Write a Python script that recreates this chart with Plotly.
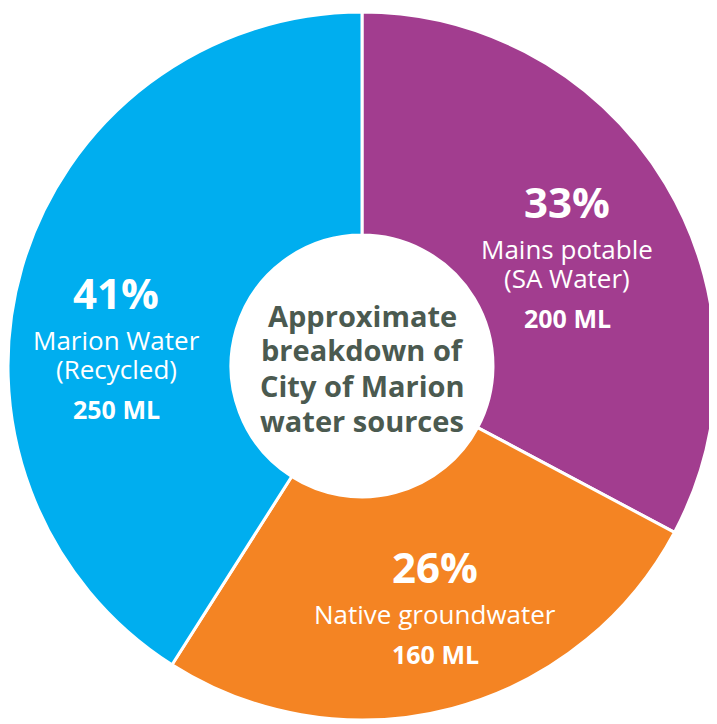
import plotly.graph_objects as go

# Data
sources = ["Mains potable<br>(SA Water)", "Native groundwater", "Marion Water<br>(Recycled)"]
volumes_ml = [200, 160, 250]
percents = [33, 26, 41]
colors = ["#A23D8F", "#F48423", "#00AEEF"]
center_title = ["Approximate", "breakdown of", "City of Marion", "water sources"]

W, H = 717, 724
OFF = 8  # page body margin of the rendered html

# pie placement in figure pixels: centre (354, 358), radius 354
CX, CY, R = 354, 358, 354
fig = go.Figure(go.Pie(
    labels=[s.replace("<br>", " ") for s in sources],
    values=volumes_ml,
    sort=False,
    direction="clockwise",
    rotation=0,
    hole=0.37,
    marker=dict(colors=colors, line=dict(color="white", width=3)),
    textinfo="none",
    hoverinfo="label+value",
    domain=dict(x=[(CX - R) / W, (CX + R) / W], y=[1 - (CY + R) / H, 1 - (CY - R) / H]),
    showlegend=False,
))

# label block layout (screen pixel centres of the percent line)
label_pos = [(567, 201), (435, 566), (116, 292)]

def px(x, y):
    return (x - OFF) / W, 1 - (y - OFF) / H

ann = []
font_family = "Open Sans, Noto Sans, sans-serif"
for (cx, cy), src, vol, pct in zip(label_pos, sources, volumes_ml, percents):
    lines = src.split("<br>")
    x, y = px(cx, cy)
    ann.append(dict(x=x, y=y, text=f"<b>{pct}%</b>", font=dict(size=42, color="white", family=font_family)))
    yy = cy + 48
    for i, ln in enumerate(lines):
        if i > 0:
            yy += 29
        x, y = px(cx, yy)
        ann.append(dict(x=x, y=y, text=ln, font=dict(size=26, color="white", family=font_family)))
    yy += 40
    x, y = px(cx, yy)
    ann.append(dict(x=x, y=y, text=f"<b>{vol} ML</b>", font=dict(size=25, color="white", family=font_family)))

cy = 315
for ln in center_title:
    x, y = px(362, cy)
    ann.append(dict(x=x, y=y, text=f"<b>{ln}</b>",
                    font=dict(size=29, color="#4B5A50", family=font_family)))
    cy += 35

for a in ann:
    a.update(xref="paper", yref="paper", showarrow=False, xanchor="center", yanchor="middle")

fig.update_layout(
    width=W, height=H,
    margin=dict(l=0, r=0, t=0, b=0),
    paper_bgcolor="white",
    plot_bgcolor="white",
    annotations=ann,
)

fig.write_html("out.html")
